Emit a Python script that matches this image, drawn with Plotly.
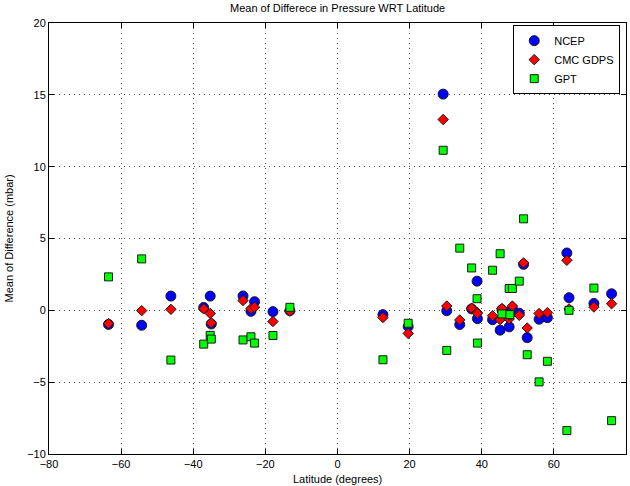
import plotly.graph_objects as go

# Station latitudes (degrees) and mean pressure differences (mbar) per source
latitude = [-63.5, -54.3, -46.2, -37.1, -35.3, -35.0, -26.2, -24.0, -23.0, -17.9, -13.2,
            12.6, 19.6, 29.3, 30.3, 33.9, 37.2, 38.7, 38.8, 43.0, 45.1, 45.6, 47.6, 47.8,
            48.5, 50.4, 51.6, 52.6, 55.9, 58.2, 63.6, 64.2, 71.1, 76.0]

ncep = [-0.98, -1.04, 0.99, 0.20, 0.99, -0.95, 1.00, -0.07, 0.60, -0.09, -0.02,
        -0.30, -1.13, 15.05, -0.03, -0.99, 0.10, 2.03, -0.58, -0.65, -1.38, 0.05, -1.15, -0.25,
        0.10, -0.20, 3.20, -1.90, -0.62, -0.51, 3.99, 0.88, 0.48, 1.15]

cmc_gdps = [-0.92, -0.02, 0.07, 0.10, -0.22, -0.88, 0.68, 0.12, 0.22, -0.78, -0.06,
            -0.50, -1.61, 13.28, 0.30, -0.67, 0.15, -0.14, -0.20, -0.38, -0.65, 0.13, -0.60, -0.35,
            0.30, -0.35, 3.30, -1.23, -0.22, -0.16, 3.48, 0.10, 0.23, 0.46]

gpt = [2.33, 3.58, -3.46, -2.35, -1.74, -2.00, -2.06, -1.84, -2.28, -1.75, 0.21,
       -3.44, -0.90, 11.14, -2.79, 4.33, 2.95, 0.81, -2.28, 2.79, 3.94, -0.25, 1.52, -0.30,
       1.52, 2.03, 6.37, -3.09, -4.98, -3.55, -8.37, 0.00, 1.55, -7.68]

x_ticks = [-80, -60, -40, -20, 0, 20, 40, 60, 80]
y_ticks = [-10, -5, 0, 5, 10, 15, 20]

FONT = "Liberation Sans, Arial, Helvetica, sans-serif"
EDGE = dict(color="#1a1a1a", width=1)

fig = go.Figure()
fig.add_trace(go.Scatter(x=latitude, y=ncep, mode="markers", name="NCEP",
                         marker=dict(symbol="circle", size=10, color="#0000ff", line=EDGE)))
fig.add_trace(go.Scatter(x=latitude, y=cmc_gdps, mode="markers", name="CMC GDPS",
                         marker=dict(symbol="diamond", size=8, color="#ff0000", line=EDGE)))
fig.add_trace(go.Scatter(x=latitude, y=gpt, mode="markers", name="GPT",
                         marker=dict(symbol="square", size=8, color="#00ff00", line=EDGE)))

axis_common = dict(
    showline=True, linecolor="black", linewidth=1, mirror="ticks",
    ticks="inside", ticklen=5, tickcolor="black",
    showgrid=True, gridcolor="#555555", gridwidth=1, griddash="1px,4px",
    zeroline=False, tickfont=dict(family=FONT, size=11, color="black"),
    automargin=False,
)

fig.update_xaxes(range=[-80, 80], tickvals=x_ticks, **axis_common)
fig.update_yaxes(range=[-10, 20], tickvals=y_ticks, **axis_common)

fig.update_layout(
    width=630, height=486,
    margin=dict(l=49, r=4, t=23, b=32),
    paper_bgcolor="white", plot_bgcolor="white",
    font=dict(family=FONT, size=11, color="black"),
    showlegend=True,
    legend=dict(x=0.99, y=0.995, xanchor="right", yanchor="top",
                bgcolor="white", bordercolor="black", borderwidth=1,
                font=dict(family=FONT, size=11, color="black"),
                tracegroupgap=0, itemwidth=30),
    annotations=[
        dict(text="Mean of Differece in Pressure WRT Latitude", xref="paper", yref="paper",
             x=0.5, y=1, yshift=7, xanchor="center", yanchor="bottom", showarrow=False,
             font=dict(family=FONT, size=11, color="black")),
        dict(text="Latitude (degrees)", xref="paper", yref="paper",
             x=0.5, y=0, yshift=-17, xanchor="center", yanchor="top", showarrow=False,
             font=dict(family=FONT, size=11, color="black")),
        dict(text="Mean of Difference (mbar)", xref="paper", yref="paper",
             x=0, y=0.5, xshift=-33, xanchor="right", yanchor="middle", showarrow=False,
             textangle=-90, font=dict(family=FONT, size=11, color="black")),
    ],
)

fig.write_html("out.html")
